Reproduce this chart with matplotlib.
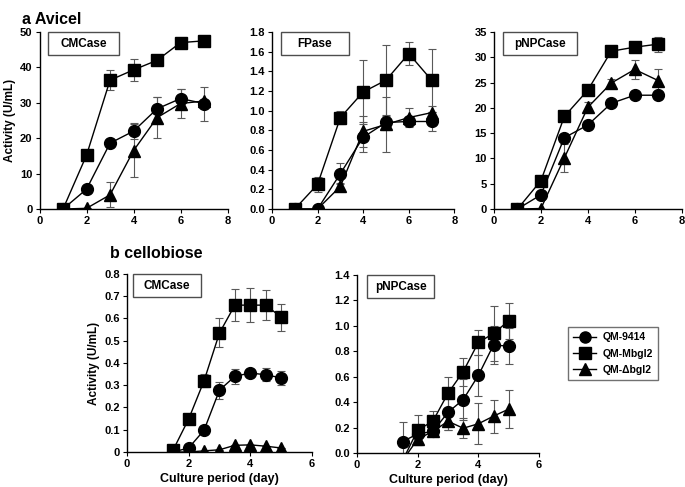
import matplotlib
matplotlib.use("Agg")
import matplotlib.pyplot as plt
from matplotlib.patches import Rectangle
from matplotlib.lines import Line2D

plt.rcParams['font.family'] = ['Liberation Sans', 'DejaVu Sans']
plt.rcParams['font.weight'] = 'bold'

strains = ["QM-9414", "QM-Mbgl2", "QM-Δbgl2"]
markers = ["o", "s", "^"]

# ---- a Avicel ----
days_a = [1, 2, 3, 4, 5, 6, 7]
a_cmc = [
    [0, 5.6, 18.6, 22.0, 28.3, 31.2, 29.8],
    [0, 15.2, 36.4, 39.3, 42.0, 47.0, 47.5],
    [0, 0.2, 4.0, 16.5, 25.8, 29.8, 30.5],
]
a_cmc_err = [
    [0, 0, 0, 2.3, 3.3, 2.8, 4.8],
    [0, 0, 2.8, 3.0, 0, 0, 0],
    [0, 0, 3.5, 7.5, 5.8, 4.2, 0],
]
a_fp = [
    [0, 0, 0.36, 0.73, 0.88, 0.89, 0.89],
    [0, 0.25, 0.93, 1.19, 1.31, 1.58, 1.31],
    [0, 0, 0.23, 0.79, 0.86, 0.93, 0.98],
]
a_fp_err = [
    [0, 0, 0.11, 0.15, 0.08, 0.03, 0.10],
    [0, 0.08, 0.07, 0.33, 0.36, 0.12, 0.32],
    [0, 0, 0.03, 0.16, 0.28, 0.10, 0.07],
]
a_pnp = [
    [0, 2.8, 14.1, 16.6, 20.9, 22.5, 22.5],
    [0, 5.6, 18.3, 23.5, 31.2, 32.0, 32.6],
    [0, 0.1, 10.1, 20.1, 24.9, 27.6, 25.4],
]
a_pnp_err = [
    [0, 0, 0, 0, 0, 0, 0],
    [0, 0, 0, 0, 0.7, 0, 1.5],
    [0, 0, 2.7, 1.0, 0.9, 1.8, 2.2],
]

# ---- b cellobiose ----
days_b = [1.5, 2, 2.5, 3, 3.5, 4, 4.5, 5]
b_cmc = [
    [0.0, 0.018, 0.098, 0.278, 0.340, 0.355, 0.347, 0.333],
    [0.01, 0.148, 0.320, 0.535, 0.660, 0.660, 0.660, 0.606],
    [0.0, 0.0, 0.005, 0.010, 0.030, 0.032, 0.026, 0.018],
]
b_cmc_err = [
    [0, 0, 0, 0.038, 0.035, 0.02, 0.03, 0.03],
    [0, 0, 0.03, 0.065, 0.072, 0.075, 0.068, 0.06],
    [0, 0, 0, 0, 0, 0, 0, 0],
]
b_pnp = [
    [0.09, 0.15, 0.17, 0.32, 0.42, 0.61, 0.85, 0.84],
    [-0.06, 0.18, 0.25, 0.47, 0.64, 0.87, 0.94, 1.04],
    [-0.06, 0.11, 0.17, 0.25, 0.195, 0.23, 0.29, 0.345],
]
b_pnp_err = [
    [0.15, 0, 0, 0.14, 0.16, 0.16, 0.15, 0.14],
    [0, 0.12, 0.08, 0.13, 0.11, 0.10, 0.22, 0.14],
    [0, 0.05, 0, 0.07, 0.08, 0.16, 0.13, 0.15],
]

fig = plt.figure(figsize=(6.85, 4.87), dpi=100)

panels = [
    ([0.0577, 0.5708, 0.2745, 0.3635], days_a, a_cmc, a_cmc_err, (0, 8), (0, 50),
     [0, 10, 20, 30, 40, 50], "{:.0f}", "CMCase", (0.045, 0.38)),
    ([0.397, 0.5708, 0.2664, 0.3635], days_a, a_fp, a_fp_err, (0, 8), (0, 1.8),
     [0, 0.2, 0.4, 0.6, 0.8, 1.0, 1.2, 1.4, 1.6, 1.8], "{:.1f}", "FPase", (0.05, 0.37)),
    ([0.7212, 0.5708, 0.2738, 0.3635], days_a, a_pnp, a_pnp_err, (0, 8), (0, 35),
     [0, 5, 10, 15, 20, 25, 30, 35], "{:.0f}", "pNPCase", (0.05, 0.39)),
    ([0.1854, 0.0719, 0.2700, 0.3655], days_b, b_cmc, b_cmc_err, (0, 6), (0, 0.8),
     [0, 0.1, 0.2, 0.3, 0.4, 0.5, 0.6, 0.7, 0.8], "{:.1f}", "CMCase", (0.03, 0.37)),
    ([0.5212, 0.0698, 0.2657, 0.3655], days_b, b_pnp, b_pnp_err, (0, 6), (0, 1.4),
     [0, 0.2, 0.4, 0.6, 0.8, 1.0, 1.2, 1.4], "{:.1f}", "pNPCase", (0.055, 0.37)),
]

axes = []
for i, (rect, xs, series, errs, xlim, ylim, yticks, fmt, label, box) in enumerate(panels):
    ax = fig.add_axes(rect)
    axes.append(ax)
    for k in range(3):
        ax.errorbar(xs, series[k], yerr=errs[k], fmt='none', ecolor='0.35',
                    elinewidth=0.8, capsize=3, capthick=0.8, zorder=2)
        ax.plot(xs, series[k], color='black', lw=1.0, marker=markers[k],
                ms=8.5, mfc='black', mec='black', zorder=3)
    ax.set_xlim(*xlim)
    ax.set_ylim(*ylim)
    ax.set_xticks(range(xlim[0], xlim[1] + 1, 2))
    ax.set_yticks(yticks)
    if i == 3:
        ax.set_yticklabels(["0"] + [fmt.format(v) for v in yticks[1:]])
    else:
        ax.set_yticklabels([fmt.format(v) for v in yticks])
    for s in ['top', 'right']:
        ax.spines[s].set_visible(False)
    for s in ['left', 'bottom']:
        ax.spines[s].set_linewidth(1.0)
    ax.tick_params(direction='out', length=3, width=0.8, labelsize=8, pad=2)
    for t in ax.get_xticklabels() + ax.get_yticklabels():
        t.set_fontweight('bold')
    x0, w = box
    ax.add_patch(Rectangle((x0, 0.87), w, 0.13, transform=ax.transAxes,
                           fc='white', ec='0.3', lw=1.0, zorder=5, clip_on=False))
    ax.text(x0 + w / 2, 0.935, label, transform=ax.transAxes, ha='center',
            va='center', fontsize=8.5, fontweight='bold', zorder=6)

axes[0].set_ylabel("Activity (U/mL)", fontsize=8.5, fontweight='bold', labelpad=3)
axes[3].set_ylabel("Activity (U/mL)", fontsize=8.5, fontweight='bold', labelpad=3)
axes[3].set_xlabel("Culture period (day)", fontsize=9, fontweight='bold', labelpad=3)
axes[4].set_xlabel("Culture period (day)", fontsize=9, fontweight='bold', labelpad=3)

fig.text(0.032, 0.975, "a Avicel", fontsize=11.5, fontweight='bold', va='top')
fig.text(0.16, 0.495, "b cellobiose", fontsize=11.5, fontweight='bold', va='top')

handles = [Line2D([], [], color='black', lw=1.0, marker=m, ms=8, mfc='black')
           for m in markers]
leg = fig.legend(handles, strains, loc='upper left', bbox_to_anchor=(0.822, 0.339),
                 frameon=True, fancybox=False, edgecolor='0.3', fontsize=7.5,
                 handlelength=2.2, borderpad=0.5, labelspacing=0.6, handletextpad=0.6)
leg.get_frame().set_linewidth(1.0)
for t in leg.get_texts():
    t.set_fontweight('bold')

fig.savefig("out.png", dpi=100)
